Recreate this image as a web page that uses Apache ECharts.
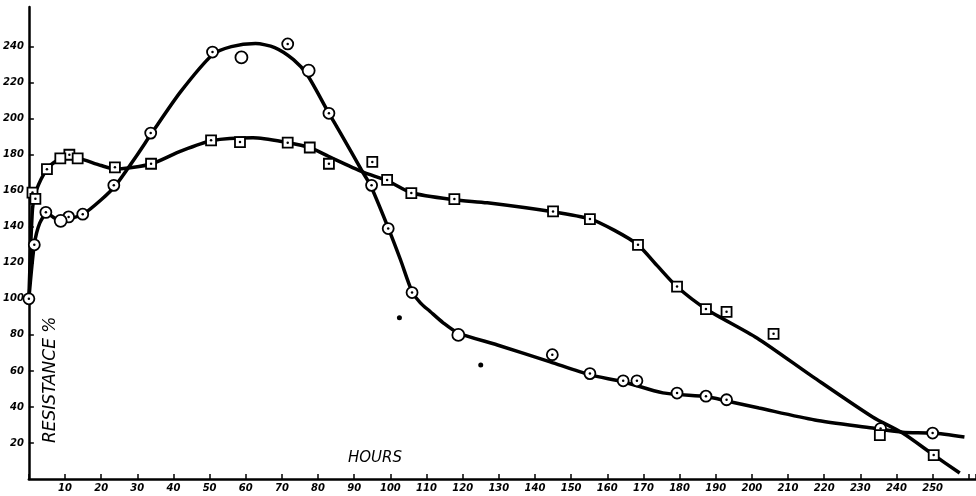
<!DOCTYPE html>
<html>
<head>
<meta charset="utf-8">
<script src="https://cdn.jsdelivr.net/npm/echarts@6/dist/echarts.min.js"></script>
<style>
  html, body { margin: 0; padding: 0; background: #fff; }
  #chart { width: 976px; height: 496px; }
</style>
</head>
<body>
<div id="chart"></div>
<script>
// measured points, circles with a centre dot
const circleHours = [0, 1.5, 4.7, 11, 14.9, 23.5, 33.7, 50.8, 71.6, 83, 94.8, 99.4, 106, 144.8, 155.2, 164.4, 168.2, 179.3, 187.3, 193, 235.6, 250]
const circleValues = [100, 130, 148, 145.5, 147, 163, 192, 237, 241.5, 203, 163, 139, 103.5, 69, 58.5, 54.5, 54.5, 47.7, 46, 44, 28, 25.5]
// open circles (no dot)
const plainCircleHours = [8.8, 58.8, 77.4, 118.8]
const plainCircleValues = [143.3, 234, 226.7, 80]

// squares with a centre dot
const squareHours = [1.0, 1.8, 5, 11.2, 23.8, 33.8, 50.4, 58.4, 71.6, 83, 95, 99.1, 105.8, 117.7, 145, 155.2, 168.5, 179.3, 187.3, 193, 206, 250.3]
const squareValues = [159, 155.5, 172, 180, 173, 175, 188, 187, 186.7, 175, 176, 166, 158.7, 155.4, 148.5, 144.3, 130, 106.8, 94.3, 92.8, 80.6, 13.3]
// open squares
const plainSquareHours = [8.7, 13.5, 77.7, 235.4]
const plainSquareValues = [178, 178, 184, 24.4]

// stray dots
const dotHours = [102.5, 125]
const dotValues = [89.5, 63.3]

// hand drawn curves
const circleCurveHours = [0, 1.5, 3, 5, 8, 11, 15, 20, 24, 30, 34, 42, 50.8, 56, 62.7, 68, 73.2, 77, 83, 86.2, 92.3, 94.5, 99.4, 102.8, 106, 108.3, 111, 114.6, 118.8, 129.6, 144.2, 155.2, 164.4, 175.4, 187.6, 193, 202, 217.4, 233.4, 241.7, 250, 258.8]
const circleCurveValues = [100, 130, 142, 147.5, 144, 144.5, 147, 155, 163, 180, 192, 215, 235.5, 240, 241.7, 239.5, 232.8, 224.4, 203, 192, 170.5, 163, 139.4, 121.7, 104, 97.8, 93, 86.7, 81, 74.4, 65, 57.8, 54, 47.8, 45.6, 43.3, 39.4, 32.8, 28.3, 26, 25.5, 23.3]
const squareCurveHours = [0, 1, 2, 5, 8, 11, 14, 20, 24, 34, 42, 50.5, 62, 71.6, 77.7, 83, 92.3, 99.1, 105.8, 117.7, 126.8, 145, 155.2, 162, 168.5, 174, 179.3, 187.3, 201.4, 216.9, 233.4, 241.7, 250.3, 257.5]
const squareCurveValues = [100, 150, 160, 172, 177, 179, 178, 174, 172, 175, 182, 187.8, 189.4, 186.7, 184, 179, 170.5, 165.6, 158.9, 155, 153.3, 148.3, 144.4, 138, 130, 118, 106.7, 94.4, 78.3, 56.7, 34.4, 25.5, 13.3, 3.3]

const xLabels = [10, 20, 30, 40, 50, 60, 70, 80, 90, 100, 110, 120, 130, 140, 150, 160, 170, 180, 190, 200, 210, 220, 230, 240, 250]
const yLabels = [20, 40, 60, 80, 100, 120, 140, 160, 180, 200, 220, 240]

const pairs = (xs, ys) => xs.map((x, i) => [x, ys[i]])

const labelFont = { color: '#000', fontFamily: 'DejaVu Sans', fontStyle: 'italic', fontWeight: 'bold', fontSize: 10 }

const chart = echarts.init(document.getElementById('chart'))
chart.setOption({
  backgroundColor: '#fff',
  animation: false,
  grid: { left: 28, right: 0, top: 7, bottom: 17, containLabel: false },
  xAxis: {
    type: 'value', min: 0, max: 262, interval: 10,
    splitLine: { show: false },
    axisLine: { lineStyle: { color: '#000', width: 2.5 } },
    axisTick: { inside: true, length: 5, lineStyle: { color: '#000', width: 1.5 } },
    axisLabel: Object.assign({ margin: 4, customValues: xLabels }, labelFont)
  },
  yAxis: {
    type: 'value', min: 0, max: 262, interval: 20,
    splitLine: { show: false },
    axisLine: { lineStyle: { color: '#000', width: 2.5 } },
    axisTick: { inside: true, length: 5, customValues: yLabels, lineStyle: { color: '#000', width: 1.5 } },
    axisLabel: Object.assign({ margin: 5, customValues: yLabels }, labelFont)
  },
  graphic: [
    {
      type: 'text', x: 42, y: 443, rotation: Math.PI / 2,
      style: { text: 'RESISTANCE %', fill: '#000', font: 'italic 17px "DejaVu Sans"' }
    },
    {
      type: 'text', x: 348, y: 451,
      style: { text: 'HOURS', fill: '#000', font: 'italic 15px "DejaVu Sans"' }
    }
  ],
  series: [
    {
      type: 'line', data: pairs(circleCurveHours, circleCurveValues), smooth: 0.25,
      showSymbol: false, lineStyle: { color: '#000', width: 3.5 }, z: 2
    },
    {
      type: 'line', data: pairs(squareCurveHours, squareCurveValues), smooth: 0.25,
      showSymbol: false, lineStyle: { color: '#000', width: 3.5 }, z: 2
    },
    {
      type: 'scatter', data: pairs(circleHours, circleValues), symbol: 'circle', symbolSize: 11,
      itemStyle: { color: '#fff', borderColor: '#000', borderWidth: 1.8, opacity: 1 }, z: 3
    },
    {
      type: 'scatter', data: pairs(plainCircleHours, plainCircleValues), symbol: 'circle', symbolSize: 12,
      itemStyle: { color: '#fff', borderColor: '#000', borderWidth: 1.8, opacity: 1 }, z: 3
    },
    {
      type: 'scatter', data: pairs(squareHours, squareValues), symbol: 'rect', symbolSize: 10,
      itemStyle: { color: '#fff', borderColor: '#000', borderWidth: 1.8, opacity: 1 }, z: 3
    },
    {
      type: 'scatter', data: pairs(plainSquareHours, plainSquareValues), symbol: 'rect', symbolSize: 10,
      itemStyle: { color: '#fff', borderColor: '#000', borderWidth: 1.8, opacity: 1 }, z: 3
    },
    {
      type: 'scatter', data: pairs(circleHours, circleValues).concat(pairs(squareHours, squareValues)),
      symbol: 'circle', symbolSize: 2.5, itemStyle: { color: '#000', opacity: 1 }, z: 4
    },
    {
      type: 'scatter', data: pairs(dotHours, dotValues), symbol: 'circle', symbolSize: 5,
      itemStyle: { color: '#000', opacity: 1 }, z: 4
    }
  ]
})
</script>
</body>
</html>
